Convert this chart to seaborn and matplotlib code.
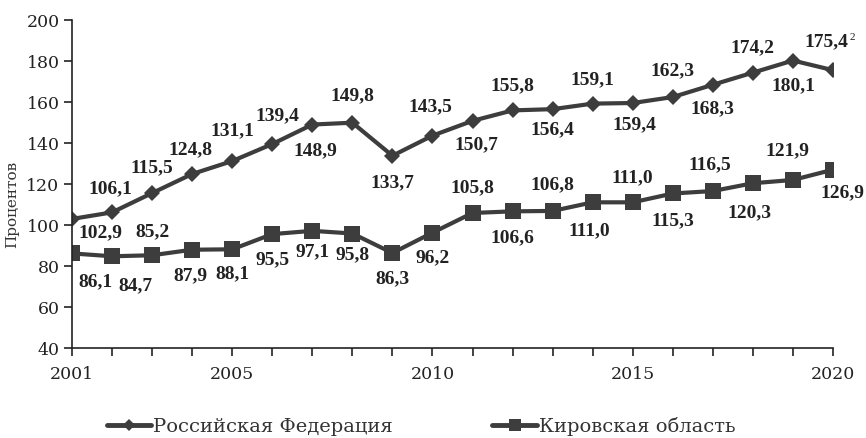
import pandas as pd
import numpy as np
import matplotlib.pyplot as plt
import seaborn as sns
from matplotlib.lines import Line2D

years = list(range(2001, 2021))
rf_values = [102.9, 106.1, 115.5, 124.8, 131.1, 139.4, 148.9, 149.8, 133.7, 143.5,
             150.7, 155.8, 156.4, 159.1, 159.4, 162.3, 168.3, 174.2, 180.1, 175.4]
kirov_values = [86.1, 84.7, 85.2, 87.9, 88.1, 95.5, 97.1, 95.8, 86.3, 96.2,
                105.8, 106.6, 106.8, 111.0, 111.0, 115.3, 116.5, 120.3, 121.9, 126.9]
rf_labels = ["102,9", "106,1", "115,5", "124,8", "131,1", "139,4", "148,9", "149,8", "133,7", "143,5",
             "150,7", "155,8", "156,4", "159,1", "159,4", "162,3", "168,3", "174,2", "180,1", "175,4"]
kirov_labels = ["86,1", "84,7", "85,2", "87,9", "88,1", "95,5", "97,1", "95,8", "86,3", "96,2",
                "105,8", "106,6", "106,8", "111,0", "111,0", "115,3", "116,5", "120,3", "121,9", "126,9"]
series_names = ["Российская Федерация", "Кировская область"]
x_ticklabels = [2001, 2005, 2010, 2015, 2020]

# label offsets from the marker, in pixels (dx, dy; dy positive = down)
rf_off = [(28, 13), (-2, -25), (0, -26), (-2, -25), (0, -31), (5, -29), (3, 25), (0, -28), (0, 26), (-2, -30),
          (4, 23), (0, -26), (0, 20), (0, -25), (2, 21), (0, -27), (0, 23), (0, -26), (0, 24), (-7, -29)]
kirov_off = [(23, 27), (23, 28), (0, -25), (-2, 25), (0, 23), (0, 25), (0, 20), (0, 20), (0, 25), (0, 24),
             (0, -26), (0, 25), (0, -27), (-3, 27), (0, -26), (0, 26), (-3, -27), (-3, 28), (-6, -30), (9, 22)]

df = pd.DataFrame({
    'Год': years * 2,
    'Значение': rf_values + kirov_values,
    'Ряд': [series_names[0]] * len(years) + [series_names[1]] * len(years),
})

sns.set_style("ticks")
plt.rcParams['font.family'] = ['DejaVu Serif']
col = '#3d3d3d'

fig = plt.figure(figsize=(8.66, 4.39), dpi=100)
ax = fig.add_axes([72 / 866, 1 - 349 / 439, (833 - 72) / 866, (349 - 20.7) / 439])

sns.lineplot(data=df, x='Год', y='Значение', hue='Ряд', style='Ряд',
             palette=[col, col], markers={series_names[0]: 'D', series_names[1]: 's'},
             dashes=False, linewidth=3, markeredgewidth=0, legend=False, ax=ax)
for ln, ms in zip(ax.lines, [8, 11]):
    ln.set_markersize(ms)

for yrs, vals, labs, offs in [(years, rf_values, rf_labels, rf_off),
                               (years, kirov_values, kirov_labels, kirov_off)]:
    for x, y, t, (dx, dy) in zip(yrs, vals, labs, offs):
        ax.annotate(t, (x, y), xytext=(dx, -dy), textcoords='offset pixels',
                    ha='center', va='center', fontsize=14, fontweight='bold',
                    family='Liberation Serif', color='#222222')

# footnote mark after the last RF value
ax.annotate('2', (years[-1], rf_values[-1]), xytext=(17, 34), textcoords='offset pixels',
            ha='left', va='center', fontsize=8, family='Liberation Serif', color='#222222')

ax.set_xlim(2001, 2020)
ax.set_ylim(40, 200)
ax.set_xticks(years, minor=True)
ax.set_xticks(x_ticklabels)
ax.set_yticks(range(40, 201, 20))
ax.tick_params(axis='both', which='both', length=6, width=1.2, color='#222222',
               labelsize=12.5, labelcolor='#222222', pad=3)
ax.tick_params(axis='x', pad=6)
sns.despine(ax=ax)
for s in ['left', 'bottom']:
    ax.spines[s].set_linewidth(1.2)
    ax.spines[s].set_color('#222222')
ax.set_xlabel('')
ax.set_ylabel('Процентов', fontsize=11, color='#333333')
ax.yaxis.set_label_coords(-0.07, 0.44)

handles = [Line2D([], [], color=col, lw=3.5, marker='D', ms=6, mew=0),
           Line2D([], [], color=col, lw=3.5, marker='s', ms=8, mew=0)]
fig.legend(handles, series_names, loc='center', bbox_to_anchor=(421 / 866, 1 - 427 / 439),
           ncol=2, frameon=False, fontsize=14, handlelength=2.3, handletextpad=0.1,
           columnspacing=5.1, labelcolor='#333333')

fig.savefig('out.png', dpi=100)
